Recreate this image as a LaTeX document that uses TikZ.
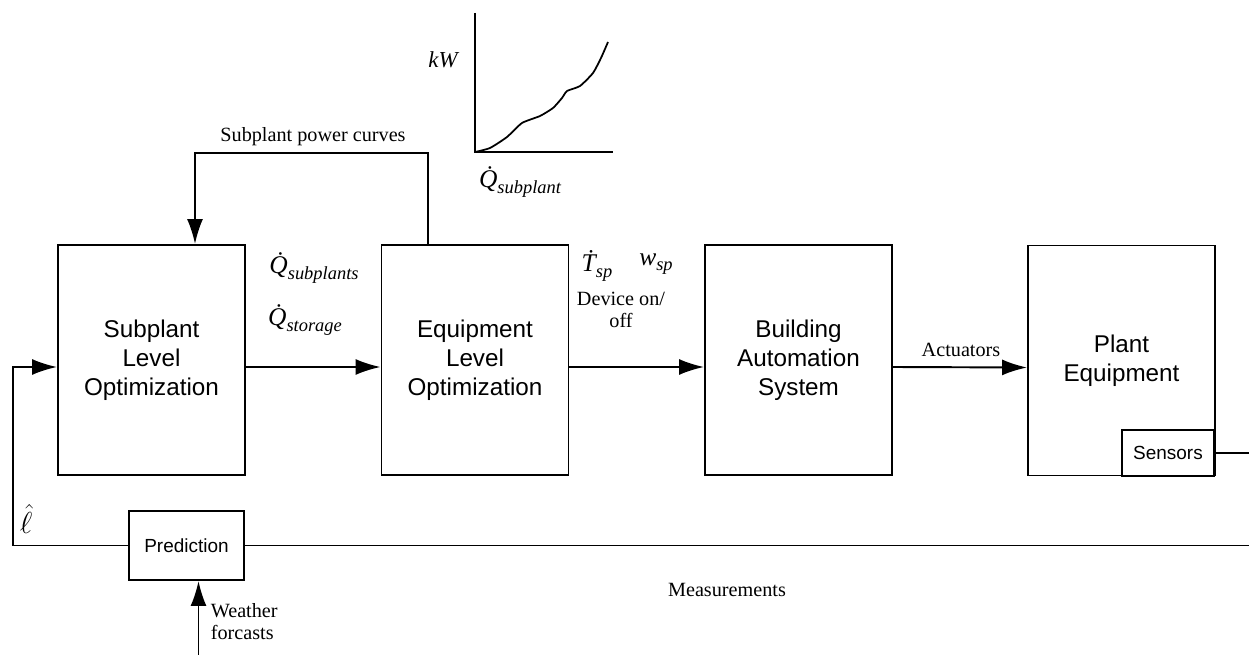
\documentclass[tikz,border=0pt]{standalone}
\usepackage{fontspec}
\setmainfont{Liberation Serif}
\setsansfont{Liberation Sans}
\usetikzlibrary{calc,arrows.meta}

\tikzset{
  block/.style={draw,line width=1.1pt,minimum width=3.74cm,minimum height=4.6cm,align=center,font=\sffamily\fontsize{13.8}{16.5}\selectfont},
  smallblock/.style={draw,line width=1.1pt,align=center,font=\sffamily\fontsize{10.8}{13}\selectfont},
  lbl/.style={align=center,font=\fontsize{11.5}{12.5}\selectfont},
  mlbl/.style={font=\fontsize{14.5}{16}\selectfont\itshape}
}
% variable with subscript, set in text italics
\newcommand{\vsub}[2]{#1\raisebox{-0.45ex}{\fontsize{10.5}{11}\selectfont\itshape #2}}

\begin{document}
\begin{tikzpicture}[x=0.02cm,y=-0.02cm,line width=1.1pt,>={Latex[length=0.5cm,width=0.32cm]}]
                \useasboundingbox (0,0) rectangle (1249,655);

                % main blocks
                \node[block] (sub) at (151.5,360) {Subplant\\Level\\Optimization};
                \node[block] (equip) at (475,360) {Equipment\\Level\\Optimization};
                \node[block] (bas) at (798.5,360) {Building\\Automation\\System};
                \node[block] (plant) at (1121.5,360.5) {Plant\\Equipment};
                \node[smallblock,minimum width=1.84cm,minimum height=0.92cm] (sens) at (1168,453) {Sensors};
                \node[smallblock,minimum width=2.3cm,minimum height=1.38cm] (pred) at (186.5,545.5) {Prediction};

                % forward path
                \draw[->] ([yshift=-0.14cm]sub.east) -- ([yshift=-0.14cm]equip.west);
                \draw[->] ([yshift=-0.14cm]equip.east) -- ([yshift=-0.14cm]bas.west);
                \draw[->] ([yshift=-0.14cm]bas.east) -- ([yshift=-0.14cm]plant.west);
                \node[mlbl] (qsub) at (314,268) {\vsub{\.Q}{subplants}};
                \node[mlbl] (qsto) at (305,320) {\vsub{\.Q}{storage}};
                \node[mlbl] (tsp) at (597,266) {\vsub{\.T}{sp}};
                \node[mlbl] (wsp) at (656,264) {\vsub{w}{sp}};
                \node[lbl] (dev) at (621,310) {Device on/\\off};
                \node[lbl] (act) at (961,350) {Actuators};

                % power curve feedback
                \coordinate (pc) at (195,153);
                \draw[->] ([xshift=-0.94cm]equip.north) |- (pc) -- ([xshift=0.87cm]sub.north);
                \node[lbl] (pcl) at (313,137) {Subplant power curves};

                % measurements and prediction
                \coordinate (mr) at (1249,545.5);
                \coordinate (sr) at (1249,453);
                \coordinate (fb) at (13,367);
                \draw (sens.east) -- (sr);
                \draw (mr) -- (pred.east);
                \draw[->] (pred.west) -| (fb) -- (fb -| sub.west);
                \node[lbl] (meas) at (727,590) {Measurements};
                \node[font=\fontsize{16}{17}\selectfont] (lhat) at (26,519) {$\hat{\ell}$};
                \coordinate (wb) at (198.5,655);
                \draw[->] (wb) -- (wb |- pred.south);
                \node[lbl,anchor=west,align=left] (wth) at (204,622) {Weather\\forcasts};

                % power curve sketch
                \coordinate (o) at (475,152);
                \coordinate (yt) at (475,13);
                \coordinate (xr) at (613,152);
                \draw (yt) -- (o) -- (xr);
                \draw[line width=1pt] plot[smooth,tension=0.35] coordinates {(475,152) (490,148) (507,137) (522,123) (540,116) (553,108) (562,98) (567,91) (580,86) (593,73) (601,58) (608,42)};
                \node[mlbl,font=\fontsize{13}{14}\selectfont\itshape] (kw) at (443,60) {kW};
                \node[mlbl] (qax) at (520,182) {\vsub{\.Q}{subplant}};
            \end{tikzpicture}
\end{document}
